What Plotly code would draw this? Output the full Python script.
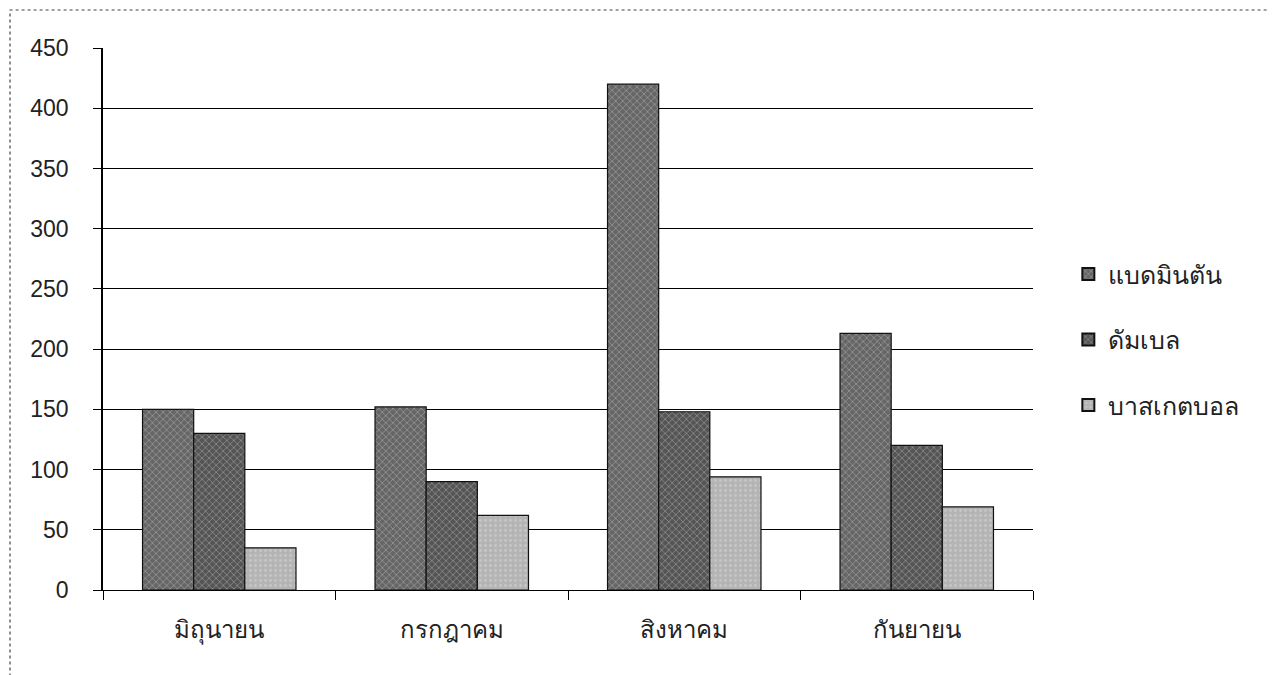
import plotly.graph_objects as go

months = ["มิถุนายน", "กรกฎาคม", "สิงหาคม", "กันยายน"]
series_names = ["แบดมินตัน", "ดัมเบล", "บาสเกตบอล"]
badminton = [150, 152, 420, 213]
dumbbell = [130, 90, 148, 120]
basketball = [35, 62, 94, 69]
y_ticks = [0, 50, 100, 150, 200, 250, 300, 350, 400, 450]

colors = ["#666666", "#555555", "#b4b4b4"]
patterns = ["x", "x", "."]

fig = go.Figure()
for i, (name, vals, col, pat) in enumerate(zip(series_names, [badminton, dumbbell, basketball], colors, patterns)):
    fig.add_trace(go.Bar(
        x=months, y=vals, name=name, legendgroup=f"g{i}",
        marker=dict(color=col, line=dict(color="#111", width=1.2),
                    pattern=dict(shape=pat, fgcolor="#d8d8d8", size=5, solidity=0.25)),
    ))

W, H = 1268, 667
L, T, R, B = 95, 40, 243, 85
fig.update_layout(
    width=W, height=H,
    paper_bgcolor="white", plot_bgcolor="white",
    margin=dict(l=L, r=R, t=T, b=B),
    barmode="group", bargap=0.34, bargroupgap=0,
    font=dict(family="Liberation Sans, Arial, sans-serif", size=22, color="#222"),
    legend=dict(x=1.038, y=0.625, xanchor="left", yanchor="top",
                font=dict(size=25), tracegroupgap=30, itemsizing="constant",
                bgcolor="rgba(0,0,0,0)"),
    showlegend=True,
)
fig.update_xaxes(
    type="category", showline=True, linecolor="black", linewidth=1.2,
    ticks="outside", tickson="boundaries", ticklen=9, tickcolor="black",
    ticklabelstandoff=18, showgrid=False, tickfont=dict(size=24),
)
fig.update_yaxes(
    range=[0, 450], tickvals=y_ticks, showline=True, linecolor="black", linewidth=1.5,
    ticks="outside", ticklen=8, tickcolor="black", ticklabelstandoff=20,
    showgrid=True, gridcolor="black", gridwidth=1, zeroline=False,
    tickfont=dict(size=23),
)
pw, ph = W - L - R, H - T - B
fig.add_shape(type="rect", xref="paper", yref="paper",
              x0=(2 - L) / pw, x1=(W - 4 - L) / pw,
              y0=-0.3, y1=(ph + T - 2) / ph,
              line=dict(color="#444", width=1.2, dash="dot"))
fig.write_html("out.html")
